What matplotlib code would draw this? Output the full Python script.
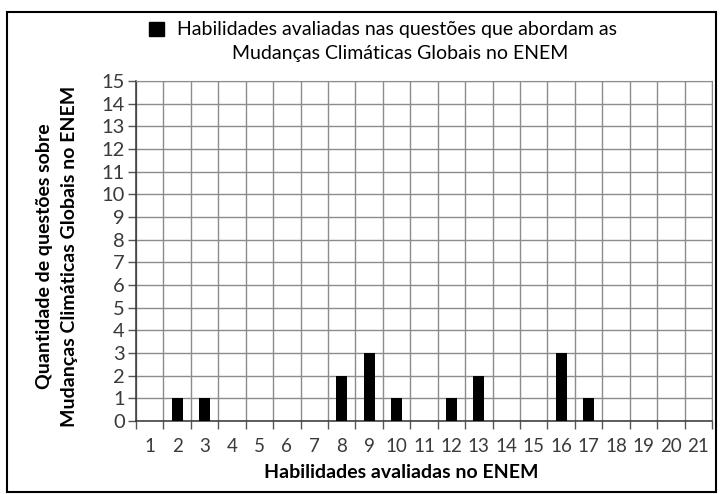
import matplotlib.pyplot as plt
from matplotlib.patches import Rectangle
import numpy as np

plt.rcParams['font.family'] = ['Lato', 'DejaVu Sans']

# habilidades 1..21 and number of questions for each
habilidades = list(range(1, 22))
questoes = [0, 1, 1, 0, 0, 0, 0, 2, 3, 1, 0, 1, 2, 0, 0, 3, 1, 0, 0, 0, 0]
yticks = list(range(0, 16))

legend_line1 = "Habilidades avaliadas nas questões que abordam as"
legend_line2 = "Mudanças Climáticas Globais no ENEM"
xlabel = "Habilidades avaliadas no ENEM"
ylabel = "Quantidade de questões sobre\nMudanças Climáticas Globais no ENEM"

W, H = 721, 494
fig = plt.figure(figsize=(W / 100, H / 100), dpi=100)
ax = fig.add_axes([136 / W, 1 - 421 / H, (712 - 136) / W, (421 - 81) / H])

ax.bar(habilidades, questoes, width=0.4, color='black', zorder=3)

ax.set_xlim(0.5, 21.5)
ax.set_ylim(0, 15)

# vertical grid at category boundaries, labels at centres
ax.set_xticks(np.arange(0.5, 22, 1))
ax.set_xticklabels([])
ax.set_xticks(habilidades, minor=True)
ax.set_xticklabels([str(h) for h in habilidades], minor=True, fontsize=13.5, color='#3a3a3a')
ax.tick_params(axis='x', which='major', direction='out', length=6, width=1, color='#555555')
ax.tick_params(axis='x', which='minor', length=0, pad=12)

ax.set_yticks(yticks)
ax.set_yticklabels([str(v) for v in yticks], fontsize=14.5, color='#3a3a3a')
ax.tick_params(axis='y', direction='out', length=6, width=1, color='#555555', pad=2)

ax.grid(True, which='major', color='#8c8c8c', linewidth=1, zorder=0)
ax.set_axisbelow(True)
for s in ['top', 'right']:
    ax.spines[s].set_color('#8c8c8c')
for s in ['left', 'bottom']:
    ax.spines[s].set_color('#333333')
    ax.spines[s].set_linewidth(1.1)

# legend drawn by hand (square + two lines)
fig.patches.append(Rectangle((149 / W, 1 - 36 / H), 15 / W, 14 / H,
                             transform=fig.transFigure, facecolor='black',
                             edgecolor='black'))
fig.text(177 / W, 1 - 29 / H, legend_line1, fontsize=14, va='center', ha='left')
fig.text(400 / W, 1 - 53 / H, legend_line2, fontsize=14, va='center', ha='center')

fig.text(401 / W, 1 - 472 / H, xlabel, fontsize=14, fontweight='bold',
         ha='center', va='center')
fig.text(57 / W, 1 - 256 / H, ylabel, fontsize=14, fontweight='bold',
         ha='center', va='center', rotation=90, multialignment='center',
         linespacing=1.55)

# outer border
fig.patches.append(Rectangle((7 / W, 1 - 492 / H), (716 - 7) / W, (492 - 12) / H,
                             transform=fig.transFigure, fill=False,
                             edgecolor='black', linewidth=1.5))

fig.savefig('out.png', dpi=100)
